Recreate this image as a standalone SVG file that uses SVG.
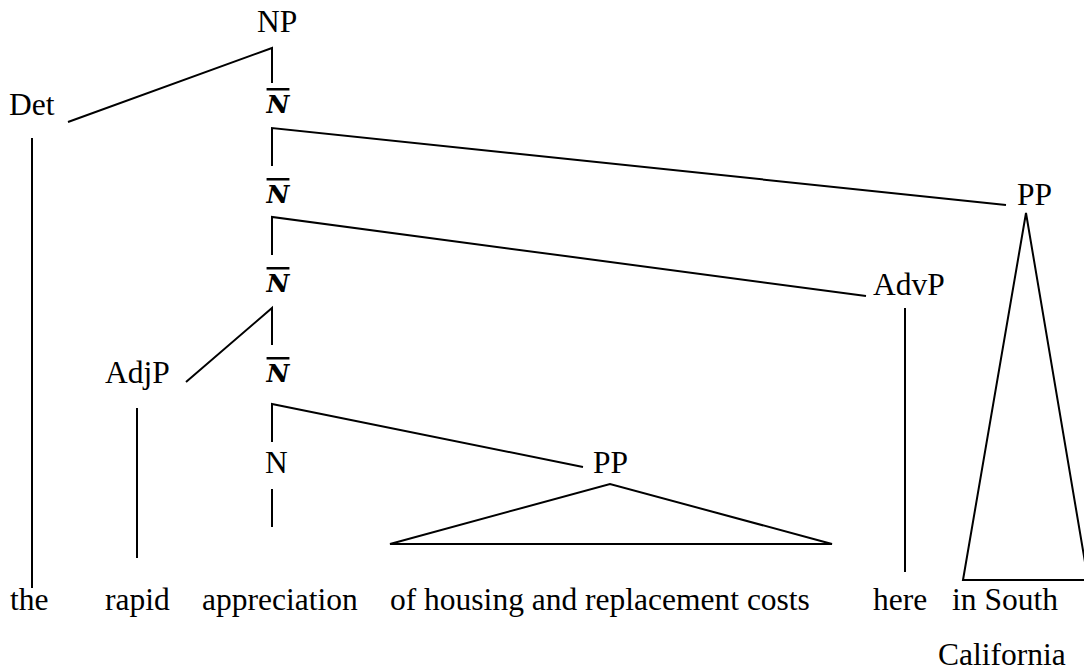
<svg xmlns="http://www.w3.org/2000/svg" width="1084" height="671" viewBox="0 0 1084 671">
<style>
text{font-family:"Liberation Serif","Times New Roman",serif;font-size:31.5px;fill:#000}
.nb{font-family:"DejaVu Serif","Liberation Serif",serif;font-style:italic;font-weight:bold;font-size:25px;text-anchor:middle;text-decoration:overline}
.e{stroke:#000;stroke-width:2;fill:none;stroke-linecap:butt;stroke-linejoin:miter}
</style>
<rect width="1084" height="671" fill="#fff"/>
<g id="connectors" class="e">
<path class="e" d="M68,122 L272,48 L272,83"/>
<path class="e" d="M272,166 L272,128 L1006,205"/>
<path class="e" d="M272,255 L272,217 L866,296"/>
<path class="e" d="M272,345 L272,308 L186,382"/>
<path class="e" d="M272,442 L272,404 L583,467"/>
<path class="e" d="M272,489 L272,527"/>
<path class="e" d="M32,138 L32,588"/>
<path class="e" d="M137,408 L137,558"/>
<path class="e" d="M905,308 L905,572"/>
<path class="e" d="M390,544 L610,484 L832,544 Z"/>
<path class="e" d="M963,580 L1026,213 L1088,580 Z"/>
</g>
<g id="NP"><text x="257" y="32">NP</text></g>
<g id="Det"><text x="9" y="115">Det</text></g>
<g id="Nbar1"><text class="nb" x="278" y="113">N</text></g>
<g id="Nbar2"><text class="nb" x="278" y="203">N</text></g>
<g id="Nbar3"><text class="nb" x="278" y="292">N</text></g>
<g id="Nbar4"><text class="nb" x="278" y="382">N</text></g>
<g id="PP1"><text x="1017" y="205">PP</text></g>
<g id="AdvP"><text x="873" y="295">AdvP</text></g>
<g id="AdjP"><text x="105" y="383">AdjP</text></g>
<g id="N"><text x="265" y="473">N</text></g>
<g id="PP2"><text x="593" y="473">PP</text></g>
<g id="w-the"><text x="10" y="610">the</text></g>
<g id="w-rapid"><text x="105" y="610">rapid</text></g>
<g id="w-appreciation"><text x="202" y="610">appreciation</text></g>
<g id="w-of"><text x="390" y="610">of housing and replacement costs</text></g>
<g id="w-here"><text x="873" y="610">here</text></g>
<g id="w-inSouth"><text x="952" y="610">in South</text><text x="938" y="665">California</text></g>
</svg>
